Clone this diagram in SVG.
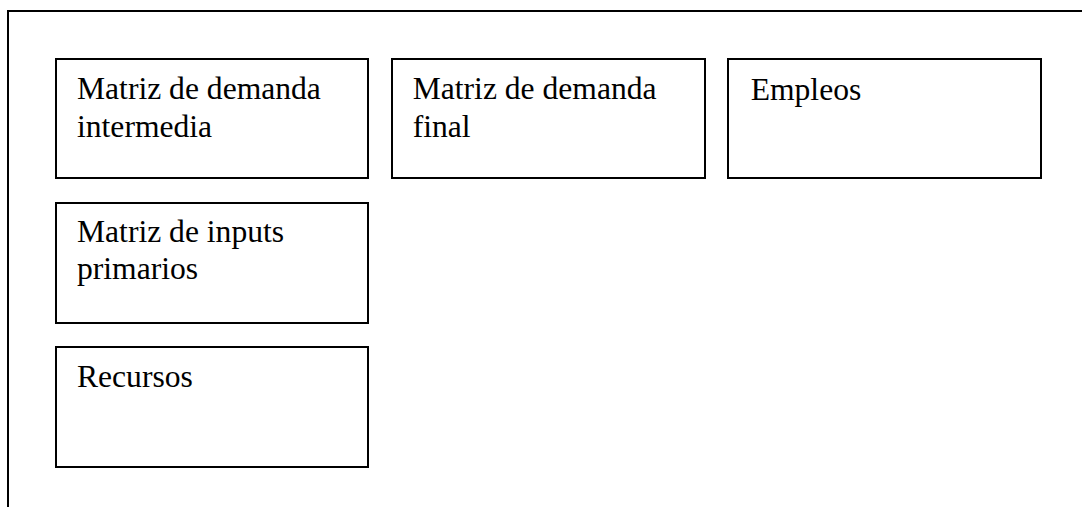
<svg xmlns="http://www.w3.org/2000/svg" width="1082" height="507" viewBox="0 0 1082 507">
<style>
.box{fill:#fff;stroke:#000;stroke-width:2}
.frame{fill:none;stroke:#000;stroke-width:2}
text{font-family:"Liberation Serif","Times New Roman",serif;font-size:31.6px;fill:#000}
</style>
<rect width="1082" height="507" fill="#fff"/>
<g id="frame"><path class="frame" d="M8,507 V11 H1082"/></g>
<g id="connectors"></g>
<g id="n1"><rect class="box" x="56" y="59" width="312" height="119"/><text x="77" y="99">Matriz de demanda</text><text x="77" y="136.7">intermedia</text></g>
<g id="n2"><rect class="box" x="392" y="59" width="313" height="119"/><text x="412.7" y="99">Matriz de demanda</text><text x="412.7" y="136.7">final</text></g>
<g id="n3"><rect class="box" x="728" y="59" width="313" height="119"/><text x="750.7" y="100">Empleos</text></g>
<g id="n4"><rect class="box" x="56" y="203" width="312" height="120"/><text x="77" y="241.7">Matriz de inputs</text><text x="77" y="279">primarios</text></g>
<g id="n5"><rect class="box" x="56" y="347" width="312" height="120"/><text x="77" y="386.7">Recursos</text></g>
</svg>
